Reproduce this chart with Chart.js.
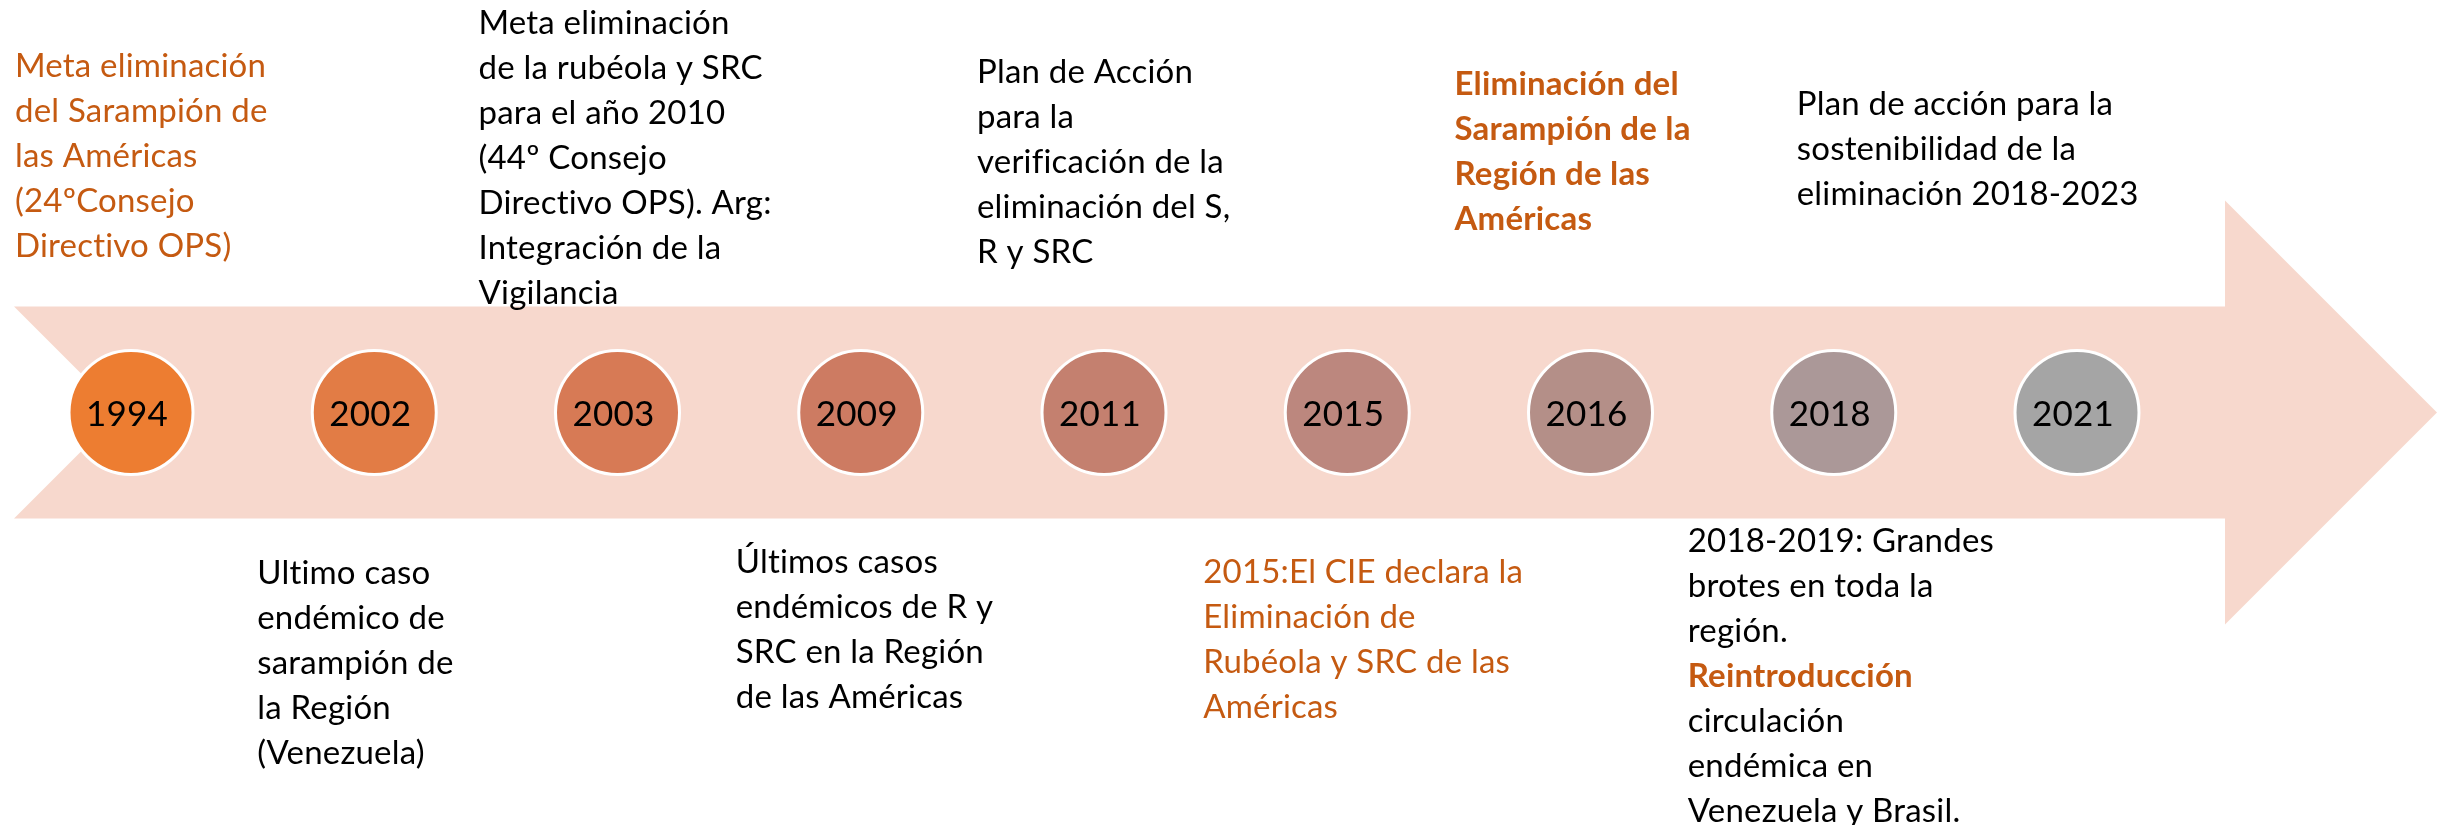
<!DOCTYPE html>
<html>
<head>
<meta charset="utf-8">
<script src="https://cdn.jsdelivr.net/npm/chart.js@4.4.1/dist/chart.umd.min.js"></script>
<style>
  html, body { margin: 0; padding: 0; background: #ffffff; }
  #wrap { width: 2450px; height: 825px; position: relative; }
</style>
</head>
<body>
<div id="wrap"><canvas id="c" width="2450" height="825"></canvas></div>
<script>
// ---- DATA ----
const years = ['1994', '2002', '2003', '2009', '2011', '2015', '2016', '2018', '2021'];
const timelineValues = [0, 0, 0, 0, 0, 0, 0, 0, 0];

const noteYears = ['1994', '2003', '2011', '2016', '2018', '2002', '2009', '2015', '2018'];
const noteTexts = [
  ['Meta eliminación', 'del Sarampión de', 'las Américas', '(24ºConsejo', 'Directivo OPS)'],
  ['Meta eliminación', 'de la rubéola y SRC', 'para el año 2010', '(44º Consejo', 'Directivo OPS). Arg:', 'Integración de la', 'Vigilancia'],
  ['Plan de Acción', 'para la', 'verificación de la', 'eliminación del S,', 'R y SRC'],
  ['Eliminación del', 'Sarampión de la', 'Región de las', 'Américas'],
  ['Plan de acción para la', 'sostenibilidad de la', 'eliminación 2018-2023'],
  ['Ultimo caso', 'endémico de', 'sarampión de', 'la Región', '(Venezuela)'],
  ['Últimos casos', 'endémicos de R y', 'SRC en la Región', 'de las Américas'],
  ['2015:El CIE declara la', 'Eliminación de', 'Rubéola y SRC de las', 'Américas'],
  ['2018-2019: Grandes', 'brotes en toda la', 'región.', 'Reintroducción', 'circulación', 'endémica en', 'Venezuela y Brasil.']
];
const emphasized = ['Reintroducción'];

// ---- STYLE / LAYOUT ----
const circleColors = ['#ED7D31', '#E27C45', '#D77A55', '#CD7B62', '#C4806F', '#BC877E', '#B48F88', '#AB9898', '#A5A5A5'];
const ORANGE = '#C55A11';
const BAND = '#F7D8CD';
const noteStyle = [
  { dx: -116, y0: 77,  color: ORANGE, bold: false },
  { dx: -139, y0: 34,  color: '#000', bold: false },
  { dx: -127, y0: 83,  color: '#000', bold: false },
  { dx: -136, y0: 95,  color: ORANGE, bold: true },
  { dx: -37,  y0: 115, color: '#000', bold: false },
  { dx: -117, y0: 584, color: '#000', bold: false },
  { dx: -125, y0: 573, color: '#000', bold: false },
  { dx: -144, y0: 583, color: ORANGE, bold: false },
  { dx: -146, y0: 552, color: '#000', bold: false }
];
const LINE_H = 45;
const FONT = 'Lato, "Noto Sans", sans-serif';

const arrowPlugin = {
  id: 'arrowBand',
  beforeDatasetsDraw(chart) {
    const { ctx, chartArea, scales } = chart;
    const cy = scales.y.getPixelForValue(0);
    const half = 106;
    const left = chartArea.left - 117;
    const notch = 106;
    const bodyEnd = chartArea.right + 148;
    const tip = chartArea.right + 360;
    const headHalf = 212;
    ctx.save();
    ctx.fillStyle = BAND;
    ctx.beginPath();
    ctx.moveTo(left, cy - half);
    ctx.lineTo(bodyEnd, cy - half);
    ctx.lineTo(bodyEnd, cy - headHalf);
    ctx.lineTo(tip, cy);
    ctx.lineTo(bodyEnd, cy + headHalf);
    ctx.lineTo(bodyEnd, cy + half);
    ctx.lineTo(left, cy + half);
    ctx.lineTo(left + notch, cy);
    ctx.closePath();
    ctx.fill();
    ctx.restore();
  }
};

const textPlugin = {
  id: 'timelineText',
  afterDatasetsDraw(chart) {
    const { ctx, scales } = chart;
    ctx.save();
    if ('letterSpacing' in ctx) ctx.letterSpacing = '0.2px';
    // year labels inside circles
    const meta = chart.getDatasetMeta(0);
    ctx.fillStyle = '#000';
    ctx.font = '35px ' + FONT;
    ctx.textAlign = 'center';
    ctx.textBaseline = 'alphabetic';
    meta.data.forEach((pt, i) => {
      ctx.fillText(years[i], pt.x - 4, pt.y + 13);
    });
    // notes
    ctx.textAlign = 'left';
    noteTexts.forEach((lines, n) => {
      const idx = years.indexOf(noteYears[n]);
      const x = scales.x.getPixelForValue(idx) + noteStyle[n].dx;
      lines.forEach((line, k) => {
        const emph = emphasized.includes(line);
        const bold = noteStyle[n].bold || emph;
        ctx.font = (bold ? 'bold ' : '') + '33px ' + FONT;
        ctx.fillStyle = emph ? ORANGE : noteStyle[n].color;
        ctx.fillText(line, x, noteStyle[n].y0 + k * LINE_H);
      });
    });
    ctx.restore();
  }
};

new Chart(document.getElementById('c'), {
  type: 'line',
  data: {
    labels: years,
    datasets: [{
      data: timelineValues,
      showLine: false,
      pointRadius: 62,
      pointHoverRadius: 62,
      pointBackgroundColor: circleColors,
      pointBorderColor: '#FFFFFF',
      pointBorderWidth: 3,
      pointHoverBorderWidth: 3
    }]
  },
  options: {
    responsive: false,
    animation: false,
    events: [],
    layout: { padding: { left: 131, right: 373, top: 3, bottom: 0 } },
    plugins: { legend: { display: false }, tooltip: { enabled: false } },
    scales: {
      x: { display: false, offset: false },
      y: { display: false, min: -1, max: 1 }
    }
  },
  plugins: [arrowPlugin, textPlugin]
});
</script>
</body>
</html>
